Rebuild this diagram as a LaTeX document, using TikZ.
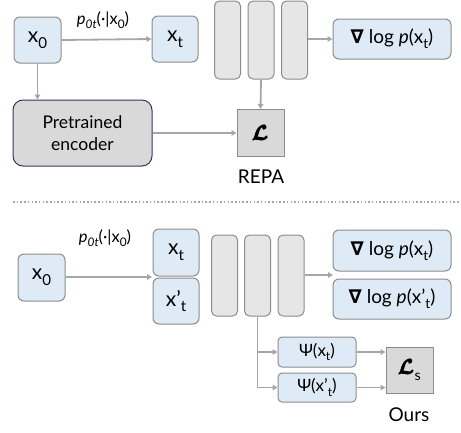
\documentclass[tikz,border=0pt]{standalone}
\usepackage{amsmath,amssymb,bm}
\usepackage{fontspec}
\setmainfont{Lato}
\newfontfamily\nablafont{DejaVu Sans}
\usetikzlibrary{arrows.meta}
\definecolor{bluefill}{HTML}{DEEBF7}
\definecolor{boxborder}{HTML}{8C8C8C}
\definecolor{barfill}{HTML}{E6E6E6}
\definecolor{lossfill}{HTML}{D9D9D9}
\definecolor{encborder}{HTML}{2E3A55}
\definecolor{arrowgray}{HTML}{A6A6A6}
\newcommand{\lsub}[1]{\raisebox{-0.28em}{\fontsize{0.72em}{0.8em}\selectfont #1}}
\newcommand{\bnabla}{{\nablafont\bfseries ∇}}
\newcommand{\heavyL}{$\pmb{\bm{\mathcal{L}}}$}
\tikzset{
  bluebox/.style={draw=boxborder, fill=bluefill, line width=1pt, rounded corners=6pt, inner sep=0pt, font=\fontsize{21}{24}\selectfont},
  outbox/.style={bluebox, minimum width=118pt, minimum height=40pt, font=\fontsize{19}{22}\selectfont},
  psibox/.style={bluebox, minimum width=78pt, minimum height=29pt, rounded corners=4pt, font=\fontsize{17}{20}\selectfont},
  barbox/.style={draw=boxborder, fill=barfill, line width=1pt, rounded corners=5pt, minimum width=26pt, inner sep=0pt},
  lossbox/.style={draw=boxborder, fill=lossfill, line width=1pt, minimum width=47pt, minimum height=47pt, inner sep=0pt, font=\fontsize{20}{22}\selectfont},
  encbox/.style={draw=encborder, fill=lossfill, line width=1pt, rounded corners=10pt, minimum width=139pt, minimum height=66pt, inner sep=0pt, align=center, font=\fontsize{17.5}{22}\selectfont},
  arr/.style={draw=arrowgray, line width=1.8pt, -{Triangle[length=5pt,width=5.5pt]}},
  ln/.style={draw=arrowgray, line width=1.8pt},
  lbl/.style={inner sep=0pt, font=\fontsize{16.5}{18}\selectfont},
  caption/.style={inner sep=0pt, font=\fontsize{19}{22}\selectfont}
}
\begin{document}
\begin{tikzpicture}[x=1pt,y=-1pt]
\useasboundingbox (0,0) rectangle (461,432);
% ---------- top (REPA) ----------
\node[bluebox, minimum width=47pt, minimum height=46pt] (x0a) at (37.5,40) {x\lsub{0}};
\node[bluebox, minimum width=46pt, minimum height=46pt] (xta) at (175,39) {x\lsub{t}};
\node[barbox, minimum height=78pt] (b1a) at (227.5,40) {};
\node[barbox, minimum height=78pt] (b2a) at (261,40) {};
\node[barbox, minimum height=78pt] (b3a) at (294.5,40) {};
\node[outbox] (outa) at (392,39) {\bnabla{} log \textit{p}(x\lsub{t})};
\node[lossbox] (La) at (260.5,133) {\heavyL};
\node[caption] (repa) at (261,177) {REPA};
\node[encbox] (enc) at (82.5,133) {Pretrained\\encoder};
\node[lbl] (pa) at (103,20) {\textit{p}\lsub{\textit{0t}}(·|x\lsub{0})};
\draw[arr] (x0a.east) -- (xta.west);
\draw[arr] (x0a.south) -- (enc.north -| x0a.south);
\draw[arr] (enc.east) -- (La.west);
\draw[arr] (b2a.south) -- (La.north);
\draw[arr] (b3a.east |- outa.west) -- (outa.west);
% ---------- separator ----------
\coordinate (sepl) at (13,202);
\coordinate (sepr) at (461,202);
\draw[draw=arrowgray, line width=1.3pt, dash pattern=on 1.5pt off 2.2pt] (sepl) -- (sepr);
% ---------- bottom (Ours) ----------
\node[bluebox, minimum width=47pt, minimum height=47pt] (x0b) at (41.5,277.5) {x\lsub{0}};
\node[bluebox, minimum width=46pt, minimum height=47pt] (xtb) at (176,252.5) {x\lsub{t}};
\node[bluebox, minimum width=46pt, minimum height=46pt] (xpb) at (176,301) {x’\lsub{t}};
\node[barbox, minimum height=81pt] (b1b) at (224.5,275.5) {};
\node[barbox, minimum height=81pt] (b2b) at (257.5,275.5) {};
\node[barbox, minimum height=81pt] (b3b) at (291,275.5) {};
\node[outbox, minimum height=41pt] (outb1) at (392,250.5) {\bnabla{} log \textit{p}(x\lsub{t})};
\node[outbox] (outb2) at (392,299) {\bnabla{} log \textit{p}(x’\lsub{t})};
\node[psibox, minimum height=30pt] (psi1) at (317,352) {Ψ(x\lsub{t})};
\node[psibox] (psi2) at (317,387.5) {Ψ(x’\lsub{t})};
\node[lossbox, minimum height=46pt] (Ls) at (409.5,370) {\heavyL\lsub{s}};
\node[caption] (ours) at (409,415) {Ours};
\node[lbl] (pb) at (105,238) {\textit{p}\lsub{\textit{0t}}(·|x\lsub{0})};
\coordinate (xin) at (152,277);
\coordinate (outin) at (333,275);
\draw[arr] (x0b.east |- xin) -- (xin);
\draw[arr] (b3b.east |- outin) -- (outin);
\draw[ln] (b2b.south) -- (b2b.south |- psi2.west);
\draw[arr] (b2b.south |- psi1.west) -- (psi1.west);
\draw[arr] (b2b.south |- psi2.west) -- (psi2.west);
\draw[arr] (psi1.east) -- (psi1.east -| Ls.west);
\draw[arr] (psi2.east) -- (psi2.east -| Ls.west);
\end{tikzpicture}
\end{document}
